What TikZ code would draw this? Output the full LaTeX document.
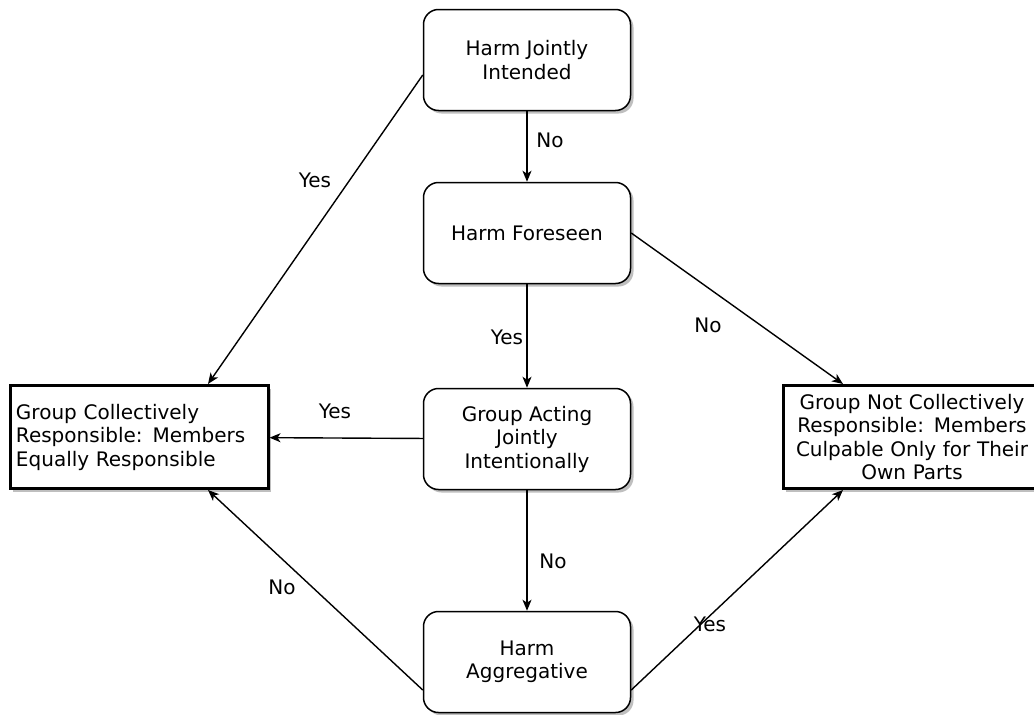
\documentclass[tikz,border=0pt]{standalone}
\usepackage{fontspec}
\setmainfont{DejaVu Sans}
\usetikzlibrary{arrows.meta,shadows}

\tikzset{
	question/.style={draw, rectangle, rounded corners=15pt, line width=1.5pt, fill=white,
		minimum width=207pt, minimum height=101pt, align=center,
		drop shadow={shadow xshift=3pt, shadow yshift=-3pt, fill=black!25, opacity=1}},
	verdict/.style={draw, rectangle, line width=3pt, fill=white,
		minimum width=258pt, minimum height=103pt, inner xsep=4pt, text width=246pt,
		drop shadow={shadow xshift=3pt, shadow yshift=-3pt, fill=black!25, opacity=1}},
	flow/.style={-{Stealth[length=11pt,width=9pt,inset=3pt]}, line width=1.4pt},
	answer/.style={inner sep=1pt}
}

\begin{document}
\begin{tikzpicture}[x=1pt, y=-1pt, font=\fontsize{20}{23.5}\selectfont]
		%%%%% START %%%%%
		\fill[white] (0, 0) rectangle (1034, 715);
		\useasboundingbox (0, 0) rectangle (1034, 715);
		
		\node[question] (intended) at (527, 60) {Harm Jointly\\Intended};
		\node[question] (foreseen) at (527, 233) {Harm Foreseen};
		\node[question] (acting) at (527, 439) {Group Acting\\Jointly\\Intentionally};
		\node[question] (aggregative) at (527, 662) {Harm\\Aggregative};
		
		\node[verdict, align=left] (guilty) at (139, 437)
			{Group Collectively\\Responsible: Members\\Equally Responsible};
		\node[verdict, align=center] (innocent) at (912, 437)
			{Group Not Collectively\\Responsible: Members\\Culpable Only for Their\\Own Parts};
		
		\draw[flow] (intended) -- (foreseen);
		\draw[flow] ([yshift=-15pt]intended.west) -- ([xshift=69pt]guilty.north);
		\draw[flow] (foreseen) -- (acting);
		\draw[flow] (foreseen.east) -- ([xshift=-69pt]innocent.north);
		\draw[flow] (acting) -- (guilty);
		\draw[flow] (acting) -- (aggregative);
		\draw[flow] ([yshift=-28pt]aggregative.west) -- ([xshift=69pt]guilty.south);
		\draw[flow] ([yshift=-28pt]aggregative.east) -- ([xshift=-69pt]innocent.south);
		
		\node[answer] (no1) at (550, 140) {No};
		\node[answer] (yes1) at (315, 180) {Yes};
		\node[answer] (yes2) at (507, 337) {Yes};
		\node[answer] (no2) at (708, 325) {No};
		\node[answer] (yes3) at (335, 411) {Yes};
		\node[answer] (no3) at (553, 561) {No};
		\node[answer] (no4) at (282, 587) {No};
		\node[answer] (yes4) at (710, 624) {Yes};
		%%%%% END %%%%%
\end{tikzpicture}
\end{document}
